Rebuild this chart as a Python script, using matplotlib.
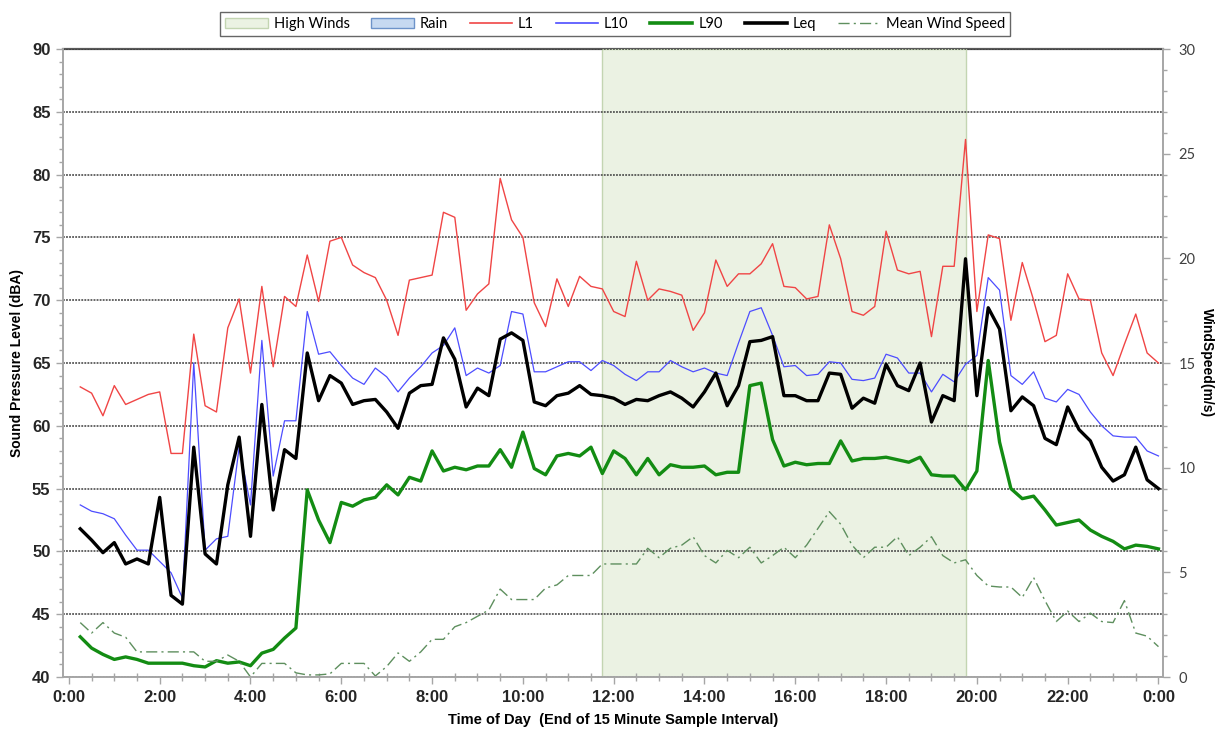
import matplotlib
matplotlib.use("Agg")
import matplotlib.pyplot as plt
from matplotlib.patches import Patch
from matplotlib.lines import Line2D
from matplotlib.ticker import MultipleLocator, FixedLocator

# end of each 15 minute sample, in hours
hours = [(i + 1) * 0.25 for i in range(96)]

l1 = [63.1, 62.6, 60.8, 63.2, 61.7, 62.1, 62.5, 62.7, 57.8, 57.8,
	67.3, 61.6, 61.1, 67.8, 70.1, 64.2, 71.1, 64.7, 70.3, 69.5,
	73.6, 69.9, 74.7, 75.0, 72.8, 72.2, 71.8, 70.0, 67.2, 71.6,
	71.8, 72.0, 77.0, 76.6, 69.2, 70.5, 71.3, 79.7, 76.4, 75.0,
	69.8, 67.9, 71.7, 69.5, 71.9, 71.1, 70.9, 69.1, 68.7, 73.1,
	70.0, 70.9, 70.7, 70.4, 67.6, 69.0, 73.2, 71.1, 72.1, 72.1,
	72.9, 74.5, 71.1, 71.0, 70.1, 70.3, 76.0, 73.3, 69.1, 68.8,
	69.5, 75.5, 72.4, 72.1, 72.3, 67.1, 72.7, 72.7, 82.8, 69.1,
	75.2, 74.9, 68.4, 73.0, 70.0, 66.7, 67.2, 72.1, 70.1, 70.0,
	65.8, 64.0, 66.5, 68.9, 65.8, 65.0]

l10 = [53.7, 53.2, 53.0, 52.6, 51.3, 50.1, 50.1, 49.2, 48.3, 46.3,
	65.0, 50.1, 51.0, 51.2, 58.3, 53.7, 66.8, 56.0, 60.4, 60.4,
	69.1, 65.7, 65.9, 64.8, 63.8, 63.3, 64.6, 63.9, 62.7, 63.8,
	64.7, 65.8, 66.4, 67.8, 64.0, 64.6, 64.2, 64.8, 69.1, 68.9,
	64.3, 64.3, 64.7, 65.1, 65.1, 64.4, 65.2, 64.8, 64.1, 63.6,
	64.3, 64.3, 65.2, 64.7, 64.3, 64.6, 64.2, 64.0, 66.6, 69.1,
	69.4, 67.2, 64.7, 64.8, 64.0, 64.1, 65.1, 65.0, 63.7, 63.6,
	63.8, 65.7, 65.4, 64.2, 64.2, 62.7, 64.1, 63.5, 64.9, 65.6,
	71.8, 70.8, 64.0, 63.3, 64.3, 62.2, 61.9, 62.9, 62.5, 61.1,
	60.0, 59.2, 59.1, 59.1, 58.0, 57.6]

l90 = [43.2, 42.3, 41.8, 41.4, 41.6, 41.4, 41.1, 41.1, 41.1, 41.1,
	40.9, 40.8, 41.3, 41.1, 41.2, 40.9, 41.9, 42.2, 43.1, 43.9,
	54.9, 52.5, 50.7, 53.9, 53.6, 54.1, 54.3, 55.3, 54.5, 55.9,
	55.6, 58.0, 56.4, 56.7, 56.5, 56.8, 56.8, 58.1, 56.7, 59.5,
	56.6, 56.1, 57.6, 57.8, 57.6, 58.3, 56.2, 58.0, 57.4, 56.1,
	57.4, 56.1, 56.9, 56.7, 56.7, 56.8, 56.1, 56.3, 56.3, 63.2,
	63.4, 58.9, 56.8, 57.1, 56.9, 57.0, 57.0, 58.8, 57.2, 57.4,
	57.4, 57.5, 57.3, 57.1, 57.5, 56.1, 56.0, 56.0, 54.9, 56.4,
	65.2, 58.7, 55.0, 54.2, 54.4, 53.3, 52.1, 52.3, 52.5, 51.7,
	51.2, 50.8, 50.2, 50.5, 50.4, 50.2]

leq = [51.8, 50.9, 49.9, 50.7, 49.0, 49.4, 49.0, 54.3, 46.5, 45.8,
	58.3, 49.8, 49.0, 55.3, 59.1, 51.2, 61.7, 53.3, 58.1, 57.4,
	65.8, 62.0, 64.0, 63.4, 61.7, 62.0, 62.1, 61.1, 59.8, 62.6,
	63.2, 63.3, 67.0, 65.3, 61.5, 63.0, 62.4, 66.9, 67.4, 66.8,
	61.9, 61.6, 62.4, 62.6, 63.2, 62.5, 62.4, 62.2, 61.7, 62.1,
	62.0, 62.4, 62.7, 62.2, 61.5, 62.7, 64.2, 61.6, 63.2, 66.7,
	66.8, 67.1, 62.4, 62.4, 62.0, 62.0, 64.2, 64.1, 61.4, 62.2,
	61.8, 64.9, 63.2, 62.8, 65.0, 60.3, 62.4, 62.0, 73.3, 62.4,
	69.4, 67.7, 61.2, 62.3, 61.6, 59.0, 58.5, 61.5, 59.7, 58.8,
	56.7, 55.6, 56.1, 58.3, 55.7, 55.0]

wind = [2.6, 2.1, 2.6, 2.1, 1.9, 1.2, 1.2, 1.2, 1.2, 1.2,
	1.2, 0.75, 0.75, 1.05, 0.75, 0.0, 0.65, 0.65, 0.65, 0.2,
	0.1, 0.1, 0.15, 0.65, 0.65, 0.65, 0.05, 0.5, 1.15, 0.75,
	1.2, 1.8, 1.8, 2.4, 2.6, 2.9, 3.2, 4.2, 3.7, 3.7,
	3.7, 4.25, 4.4, 4.85, 4.85, 4.85, 5.4, 5.4, 5.4, 5.4,
	6.15, 5.7, 6.15, 6.3, 6.7, 5.8, 5.45, 6.05, 5.7, 6.2,
	5.45, 5.8, 6.2, 5.7, 6.3, 7.1, 7.9, 7.3, 6.3, 5.7,
	6.2, 6.2, 6.7, 5.8, 6.2, 6.7, 5.8, 5.45, 5.6, 4.85,
	4.35, 4.3, 4.3, 3.8, 4.75, 3.65, 2.65, 3.15, 2.65, 3.05,
	2.65, 2.6, 3.65, 2.1, 1.95, 1.45]

high_winds = (11.75, 19.75)
x_ticks = [0, 2, 4, 6, 8, 10, 12, 14, 16, 18, 20, 22, 24]
x_labels = ["0:00", "2:00", "4:00", "6:00", "8:00", "10:00", "12:00",
	"14:00", "16:00", "18:00", "20:00", "22:00", "0:00"]

axis_grey = "#a6a6a6"
bold_font = {"family": "Liberation Sans", "weight": "bold"}

fig = plt.figure(figsize=(12.21, 7.37), dpi=100)
ax = fig.add_axes([0.0516, 0.0814, 0.9009, 0.8521])
ax2 = ax.twinx()

ax.axhline(90, color="#595959", lw=1.6, zorder=0.5, clip_on=False)
ax.axvspan(high_winds[0], high_winds[1], facecolor="#ebf2e3", edgecolor="#c3d5b2", lw=1, zorder=1)

ax.plot(hours, l1, color="#f04545", lw=1.0, zorder=3)
ax.plot(hours, l10, color="#4d4dff", lw=0.9, zorder=3)
ax.plot(hours, l90, color="#138c13", lw=2.4, zorder=4)
ax.plot(hours, leq, color="black", lw=2.4, zorder=5)
ax2.plot(hours, wind, color="#5e8f5e", lw=1.0, linestyle=(0, (8, 3, 1.5, 3)))

ax.set_xlim(-0.13, 24.1)
ax.set_ylim(40, 90)
ax2.set_ylim(0, 30)

ax.yaxis.set_major_locator(MultipleLocator(5))
ax.yaxis.set_minor_locator(MultipleLocator(1))
ax.xaxis.set_major_locator(FixedLocator(x_ticks))
ax.xaxis.set_minor_locator(MultipleLocator(0.5))
ax.set_xticklabels(x_labels)
ax2.yaxis.set_major_locator(MultipleLocator(5))
ax2.yaxis.set_minor_locator(MultipleLocator(1))

ax.grid(axis="y", which="major", color="#3c3c3c", linestyle=(0, (1.2, 0.8)), lw=1.1)

for a in (ax, ax2):
	a.spines["top"].set_visible(False)
	for s in ("left", "right", "bottom"):
		a.spines[s].set_color(axis_grey)
		a.spines[s].set_linewidth(1.2)

ax.tick_params(axis="both", which="major", length=5, color=axis_grey, width=1, labelcolor="#262626", pad=4)
ax.tick_params(axis="both", which="minor", length=3, color=axis_grey, width=1)
ax.tick_params(axis="x", which="minor", direction="inout", length=6)
ax2.tick_params(axis="y", which="major", length=5, color=axis_grey, width=1, labelcolor="#404040", pad=6)
ax2.tick_params(axis="y", which="minor", length=3, color=axis_grey, width=1)

for lab in ax.get_xticklabels() + ax.get_yticklabels():
	lab.set_fontfamily("Liberation Sans")
	lab.set_fontweight("bold")
	lab.set_fontsize(12)
for lab in ax2.get_yticklabels():
	lab.set_fontfamily("Lato")
	lab.set_fontsize(10.5)

ax.set_xlabel("Time of Day  (End of 15 Minute Sample Interval)", fontsize=10.5, labelpad=6, **bold_font)
ax.set_ylabel("Sound Pressure Level (dBA)", fontsize=10, labelpad=6, **bold_font)
ax2.set_ylabel("WindSpeed(m/s)", fontsize=10, rotation=270, va="center", **bold_font)
ax2.yaxis.set_label_coords(1.04, 0.5)

handles = [
	Patch(facecolor="#ebf2e3", edgecolor="#c3d5b2", label="High Winds"),
	Patch(facecolor="#c6d9f1", edgecolor="#6d93c9", label="Rain"),
	Line2D([], [], color="#f04545", lw=1.2, label="L1"),
	Line2D([], [], color="#4d4dff", lw=1.2, label="L10"),
	Line2D([], [], color="#138c13", lw=2.6, label="L90"),
	Line2D([], [], color="black", lw=2.6, label="Leq"),
	Line2D([], [], color="#5e8f5e", lw=1.0, linestyle=(0, (8, 3, 1.5, 3)), label="Mean Wind Speed"),
]
leg = fig.legend(handles=handles, loc="upper center", bbox_to_anchor=(0.504, 0.994), ncol=7,
	frameon=True, fancybox=False, edgecolor="#404040", prop={"family": "Lato", "size": 10.5},
	handlelength=2.9, handletextpad=0.4, columnspacing=1.5, borderpad=0.35)
leg.get_frame().set_linewidth(1.0)

fig.savefig("out.png", dpi=100)
